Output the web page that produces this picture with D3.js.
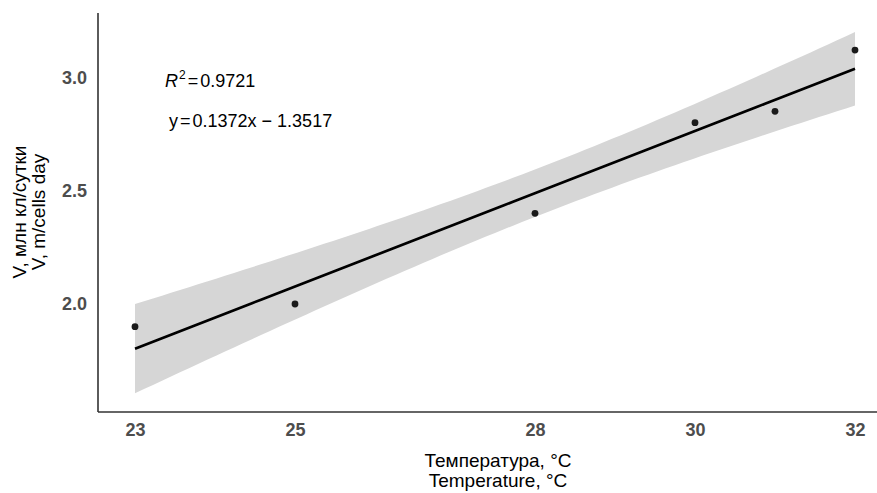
<!DOCTYPE html>
<html><head><meta charset="utf-8">
<script src="https://cdn.jsdelivr.net/npm/d3@7"></script>
<style>body{margin:0;background:#fff}svg{display:block}text{font-family:"Liberation Sans",Arial,sans-serif}</style>
</head><body>
<svg id="c" width="877" height="493"></svg>
<script>
const temps = [23, 25, 28, 30, 31, 32];
const rates = [1.9, 2.0, 2.4, 2.8, 2.85, 3.12];
const xTicks = [23, 25, 28, 30, 32];
const yTicks = [2.0, 2.5, 3.0];
const r2Label = "0.9721";
const eqParts = ["y", "0.1372x", "−", "1.3517"];
const xTitle = ["Температура, °C", "Temperature, °C"];
const yTitle = ["V, млн кл/сутки", "V, m/cells day"];

const svg = d3.select("#c");
const L = 98, T = 13, B = 412, R = 877;
const x = d3.scaleLinear().domain([22.5375, 32.25]).range([L, L + (32.25 - 22.5375) * 80]);
const y = d3.scaleLinear().domain([1.5236, 3.2836]).range([B, T]);

// linear regression + 95% CI (like geom_smooth(method="lm"))
const n = temps.length;
const mx = d3.mean(temps), my = d3.mean(rates);
let sxx = 0, sxy = 0;
temps.forEach((t, i) => { sxx += (t - mx) ** 2; sxy += (t - mx) * (rates[i] - my); });
const b = sxy / sxx, a = my - b * mx;
let sse = 0; temps.forEach((t, i) => { sse += (rates[i] - (a + b * t)) ** 2; });
const s = Math.sqrt(sse / (n - 2));
const tq = 2.776; // t(0.975, df=4)
const grid = d3.range(0, 81).map(k => 23 + k * (32 - 23) / 80);
const band = grid.map(g => {
  const f = a + b * g, h = tq * s * Math.sqrt(1 / n + (g - mx) ** 2 / sxx);
  return { g, f, lo: f - h, hi: f + h };
});

svg.append("path").datum(band)
  .attr("d", d3.area().x(d => x(d.g)).y0(d => y(d.lo)).y1(d => y(d.hi)))
  .attr("fill", "#d6d6d6");

svg.selectAll("circle").data(temps).join("circle")
  .attr("cx", d => x(d)).attr("cy", (d, i) => y(rates[i])).attr("r", 3.4)
  .attr("fill", "#1a1a1a");

svg.append("path").datum(band)
  .attr("d", d3.line().x(d => x(d.g)).y(d => y(d.f)))
  .attr("fill", "none").attr("stroke", "#000").attr("stroke-width", 2.7);

// axes
const xAx = svg.append("g").attr("transform", `translate(0,${B})`)
  .call(d3.axisBottom(x).tickValues(xTicks).tickFormat(d3.format("d")).tickSize(0).tickPadding(11));
const yAx = svg.append("g").attr("transform", `translate(${L},0)`)
  .call(d3.axisLeft(y).tickValues(yTicks).tickFormat(d3.format(".1f")).tickSize(0).tickPadding(11));
[xAx, yAx].forEach(g => {
  g.select(".domain").remove();
  g.selectAll("text").attr("fill", "#4d4d4d").attr("font-size", 18).attr("font-weight", "bold")
    .attr("font-family", '"Liberation Sans",Arial,sans-serif');
});
svg.append("line").attr("x1", L).attr("x2", R).attr("y1", B).attr("y2", B)
  .attr("stroke", "#333").attr("stroke-width", 1.6);
svg.append("line").attr("x1", L).attr("x2", L).attr("y1", T).attr("y2", B)
  .attr("stroke", "#333").attr("stroke-width", 1.6);

// titles
svg.selectAll(".xt").data(xTitle).join("text").attr("class", "xt")
  .attr("x", 498).attr("y", (d, i) => 467 + i * 20).attr("text-anchor", "middle")
  .attr("font-size", 19).attr("fill", "#000").text(d => d);
svg.selectAll(".yt").data(yTitle).join("text").attr("class", "yt")
  .attr("transform", (d, i) => `translate(${26 + i * 19},212) rotate(-90)`)
  .attr("text-anchor", "middle").attr("font-size", 19).attr("fill", "#000").text(d => d);

// annotations
const r2 = svg.append("text").attr("x", 165).attr("y", 87).attr("font-size", 18).attr("fill", "#000");
r2.append("tspan").attr("font-style", "italic").text("R");
r2.append("tspan").attr("font-size", 12).attr("dx", 1).attr("dy", -8).text("2");
r2.append("tspan").attr("dx", 2).attr("dy", 8).text("=");
r2.append("tspan").attr("dx", 2).text(r2Label);
const eq = svg.append("text").attr("x", 169).attr("y", 127).attr("font-size", 18).attr("fill", "#000");
eq.append("tspan").text(eqParts[0]);
eq.append("tspan").attr("dx", 2).text("=");
eq.append("tspan").attr("dx", 2).text(eqParts[1]);
eq.append("tspan").attr("dx", 5).text(eqParts[2]);
eq.append("tspan").attr("dx", 5).text(eqParts[3]);
</script>
</body></html>
